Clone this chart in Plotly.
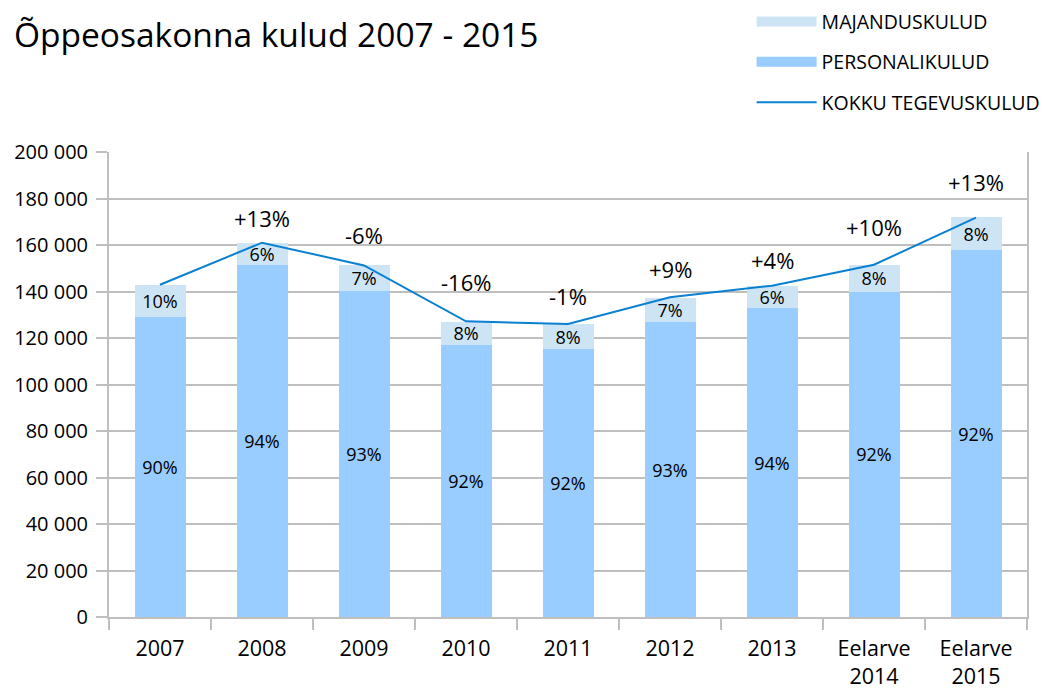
import plotly.graph_objects as go

# andmed
aastad = ["2007", "2008", "2009", "2010", "2011", "2012", "2013", "Eelarve<br>2014", "Eelarve<br>2015"]
personalikulud = [128900, 151500, 140200, 116900, 115200, 126800, 132800, 140000, 157800]
majanduskulud = [14000, 9500, 11000, 10100, 10700, 10400, 9500, 11500, 14100]
kokku = [142900, 161000, 151200, 127200, 126000, 137500, 142500, 151500, 171800]
personal_pct = ["90%", "94%", "93%", "92%", "92%", "93%", "94%", "92%", "92%"]
majandus_pct = ["10%", "6%", "7%", "8%", "8%", "7%", "6%", "8%", "8%"]
muutus = ["", "+13%", "-6%", "-16%", "-1%", "+9%", "+4%", "+10%", "+13%"]
y_ticks = [0, 20000, 40000, 60000, 80000, 100000, 120000, 140000, 160000, 180000, 200000]
y_ticktext = ["0", "20 000", "40 000", "60 000", "80 000", "100 000", "120 000",
              "140 000", "160 000", "180 000", "200 000"]

# how far the change labels sit above the line (px)
nihe = [0, 25, 30, 39, 28, 28, 26, 38, 36]

font = "Open Sans"
grid = "#bfbfbf"
c_personal = "#99ccff"
c_majandus = "#cde4f5"
c_kokku = "#0a80d2"

pos = list(range(len(aastad)))
piirid = [p - 0.5 for p in pos] + [pos[-1] + 0.5]

fig = go.Figure()
fig.add_trace(go.Bar(x=pos, y=personalikulud, name="PERSONALIKULUD",
                     marker=dict(color=c_personal, line=dict(width=0)),
                     text=personal_pct, textposition="inside", insidetextanchor="middle",
                     textfont=dict(size=18, color="black", family=font),
                     constraintext="none", showlegend=False))
fig.add_trace(go.Bar(x=pos, y=majanduskulud, name="MAJANDUSKULUD",
                     marker=dict(color=c_majandus, line=dict(width=0)),
                     text=majandus_pct, textposition="inside", insidetextanchor="middle",
                     textfont=dict(size=18, color="black", family=font),
                     constraintext="none", showlegend=False))
fig.add_trace(go.Scatter(x=pos, y=kokku, name="KOKKU TEGEVUSKULUD", mode="lines",
                         line=dict(color=c_kokku, width=2), showlegend=False))

# legend entries with wide swatches like the original
for nimi, varv, laius in [("MAJANDUSKULUD", c_majandus, 12),
                          ("PERSONALIKULUD", c_personal, 12),
                          ("KOKKU TEGEVUSKULUD", c_kokku, 2)]:
    fig.add_trace(go.Scatter(x=[None], y=[None], mode="lines", name=nimi,
                             line=dict(color=varv, width=laius), legendgroup=nimi))

for p, k, t, n in zip(pos, kokku, muutus, nihe):
    if t:
        fig.add_annotation(x=p, y=k, text=t, showarrow=False, yshift=n,
                           font=dict(size=22, color="black", family=font))

fig.update_layout(
    width=1052, height=691,
    margin=dict(l=101, r=33, t=144, b=82, autoexpand=False),
    paper_bgcolor="white", plot_bgcolor="white",
    barmode="stack", bargap=0.5,
    font=dict(family=font, color="black"),
    title=dict(text="Õppeosakonna kulud 2007 - 2015", x=6 / 1052, xref="container",
               xanchor="left", y=1 - 27 / 691, yanchor="middle",
               font=dict(size=33.5, color="black", family=font)),
    legend=dict(x=0.700, y=1.322, xanchor="left", yanchor="top",
                traceorder="grouped", tracegroupgap=12, itemwidth=60,
                font=dict(size=19.5, color="black", family=font)),
    showlegend=True,
)
fig.update_xaxes(range=[-0.5, len(aastad) - 0.5], tickvals=pos, ticktext=aastad,
                 showline=True, linecolor=grid, linewidth=2,
                 ticks="", showgrid=False, zeroline=False, ticklabelstandoff=11,
                 minor=dict(tickvals=piirid, ticks="outside", ticklen=11,
                            tickcolor=grid, tickwidth=2, showgrid=False),
                 tickfont=dict(size=21.5, color="black", family=font))
fig.update_yaxes(range=[0, 200000], tickvals=y_ticks, ticktext=y_ticktext,
                 showline=True, linecolor=grid, linewidth=2, mirror=True,
                 showgrid=True, gridcolor=grid, gridwidth=2,
                 ticks="outside", ticklen=11, tickcolor=grid, tickwidth=2,
                 ticklabelstandoff=4, zeroline=False,
                 tickfont=dict(size=20, color="black", family=font))

fig.write_html("out.html")
